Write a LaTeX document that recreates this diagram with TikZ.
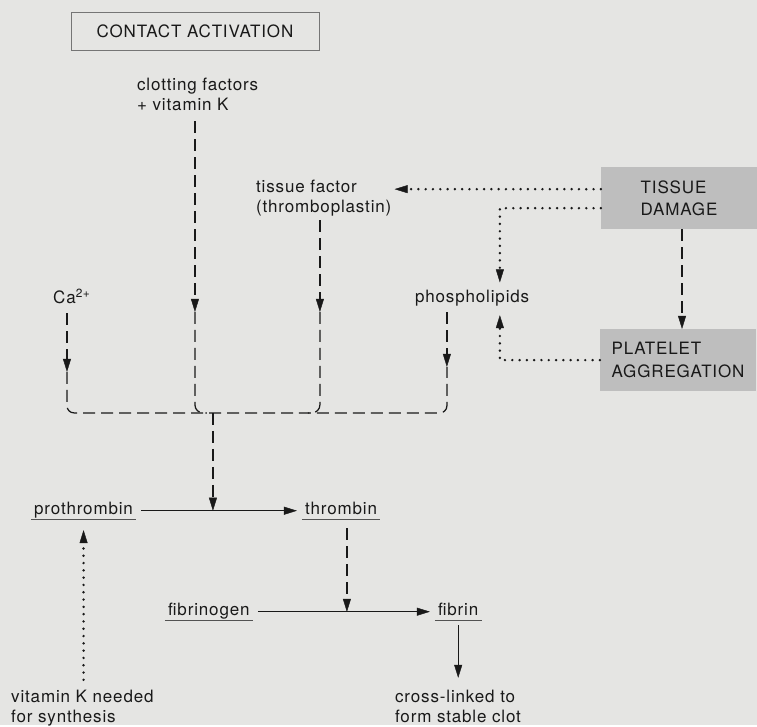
\documentclass[tikz,border=0pt]{standalone}
\usepackage{fontspec}
\setmainfont{TeX Gyre Heros}[LetterSpace=5]
\usetikzlibrary{arrows.meta}
\definecolor{coagBg}{HTML}{E5E5E3}
\definecolor{coagBox}{HTML}{BEBEBE}
\definecolor{coagInk}{HTML}{191919}

\begin{document}
\begin{tikzpicture}[x=1pt, y=-1pt,
    >={Triangle[length=13pt, width=8pt, line width=0.4pt]},
    txt/.style={inner sep=0pt, font=\fontsize{17}{20}\selectfont, text=coagInk, align=left, anchor=north west},
    lab/.style={inner sep=0pt, text height=12.3pt, text depth=4pt, font=\fontsize{17}{20}\selectfont, text=coagInk, anchor=base west},
    ulab/.style={lab, inner xsep=3pt},
    uline/.style={draw=coagInk!75, line width=0.9pt},
    grbox/.style={fill=coagBox, minimum width=156pt, minimum height=62pt, anchor=north west, align=left, inner sep=0pt, font=\fontsize{17}{22.5}\selectfont, text=coagInk},
    dline/.style={draw=coagInk, line width=1.25pt, dash pattern=on 12pt off 6pt},
    dotline/.style={draw=coagInk, line width=2.7pt, dash pattern=on 0pt off 7.3pt, line cap=round},
    sline/.style={draw=coagInk, line width=1.2pt}]
  \fill[coagBg] (0,0) rectangle (757,725);

  % labels
  \node[draw=coagInk!60, line width=0.8pt, minimum width=248pt, minimum height=38pt, inner sep=0pt,
        font=\fontsize{17}{20}\selectfont, text=coagInk] (act) at (195,31) {CONTACT ACTIVATION};
  \node[txt] (cf) at (137,78) {clotting factors\\+ vitamin K};
  \node[txt] (tf) at (256,180) {tissue factor\\(thromboplastin)};
  \node[lab] (ca) at (53,304) {Ca\textsuperscript{2+}};
  \node[lab] (phos) at (415,303) {phospholipids};
  \node[grbox] (td) at (601,167) {TISSUE\\DAMAGE};
  \node[grbox] (pa) at (600,329) {PLATELET\\AGGREGATION};
  \node[ulab] (pro) at (31,515) {prothrombin};
  \node[ulab] (thr) at (302,515) {thrombin};
  \node[ulab] (fgen) at (165,616) {fibrinogen};
  \node[ulab] (fib) at (435,616) {fibrin};
  \node[txt] (vitk) at (11,690) {vitamin K needed\\for synthesis};
  \node[txt] (xlink) at (395,690) {cross-linked to\\form stable clot};

  \foreach \n in {pro,thr,fgen,fib}
    \draw[uline] (\n.south west) -- (\n.south east);

  % where the dashed lines meet
  \coordinate (caK) at (67,372);
  \coordinate (cfK) at (195,312);
  \coordinate (tfK) at (320,312);
  \coordinate (phK) at (447,367);
  \coordinate (bus) at (213,413);
  \coordinate (thK) at (347,612);
  \coordinate (lipX) at (500,300);

  \draw[dline,->,shorten <=5pt] (ca.south -| caK) -- (caK);
  \draw[dline,->,shorten <=10pt] (cf.south -| cfK) -- (cfK);
  \draw[dline,->,shorten <=4pt] (tf.south -| tfK) -- (tfK);
  \draw[dline,->,shorten <=5pt] (phos.south -| phK) -- (phK);
  \draw[dline, rounded corners=7pt] (caK) |- (phK |- bus) -- (phK);
  \draw[dline, rounded corners=8pt] (cfK) |- ([xshift=12pt]cfK |- bus);
  \draw[dline, rounded corners=8pt] (tfK) |- ([xshift=-12pt]tfK |- bus);
  \draw[dline,->] (bus) -- (bus |- pro.east);

  \draw[sline,->,shorten <=5pt,shorten >=5pt] (pro.east) -- (thr.west);
  \draw[dline,->,shorten <=9pt] (thr.south -| thK) -- (thK);
  \draw[sline,->,shorten <=5pt,shorten >=5pt] (fgen.east) -- (fgen.east -| fib.west);
  \draw[sline,->,shorten <=5pt,shorten >=12pt] (fib.south) -- (fib.south |- xlink.north);
  \draw[dotline,->,shorten <=10pt,shorten >=11pt] (pro.south |- vitk.north) -- (pro.south);

  % tissue damage side
  \draw[dotline,->,shorten >=3pt] ([yshift=9pt]td.west) -- ([yshift=9pt]td.west -| tf.east);
  \draw[dotline,->,shorten >=8pt] ([yshift=-10pt]td.west) -| (lipX |- phos.north);
  \draw[dotline,->,shorten >=8pt] (pa.west) -| (lipX |- phos.south);
  \draw[dline,->] ([xshift=3pt]td.south) -- ([xshift=3pt]td.south |- pa.north);
\end{tikzpicture}
\end{document}
